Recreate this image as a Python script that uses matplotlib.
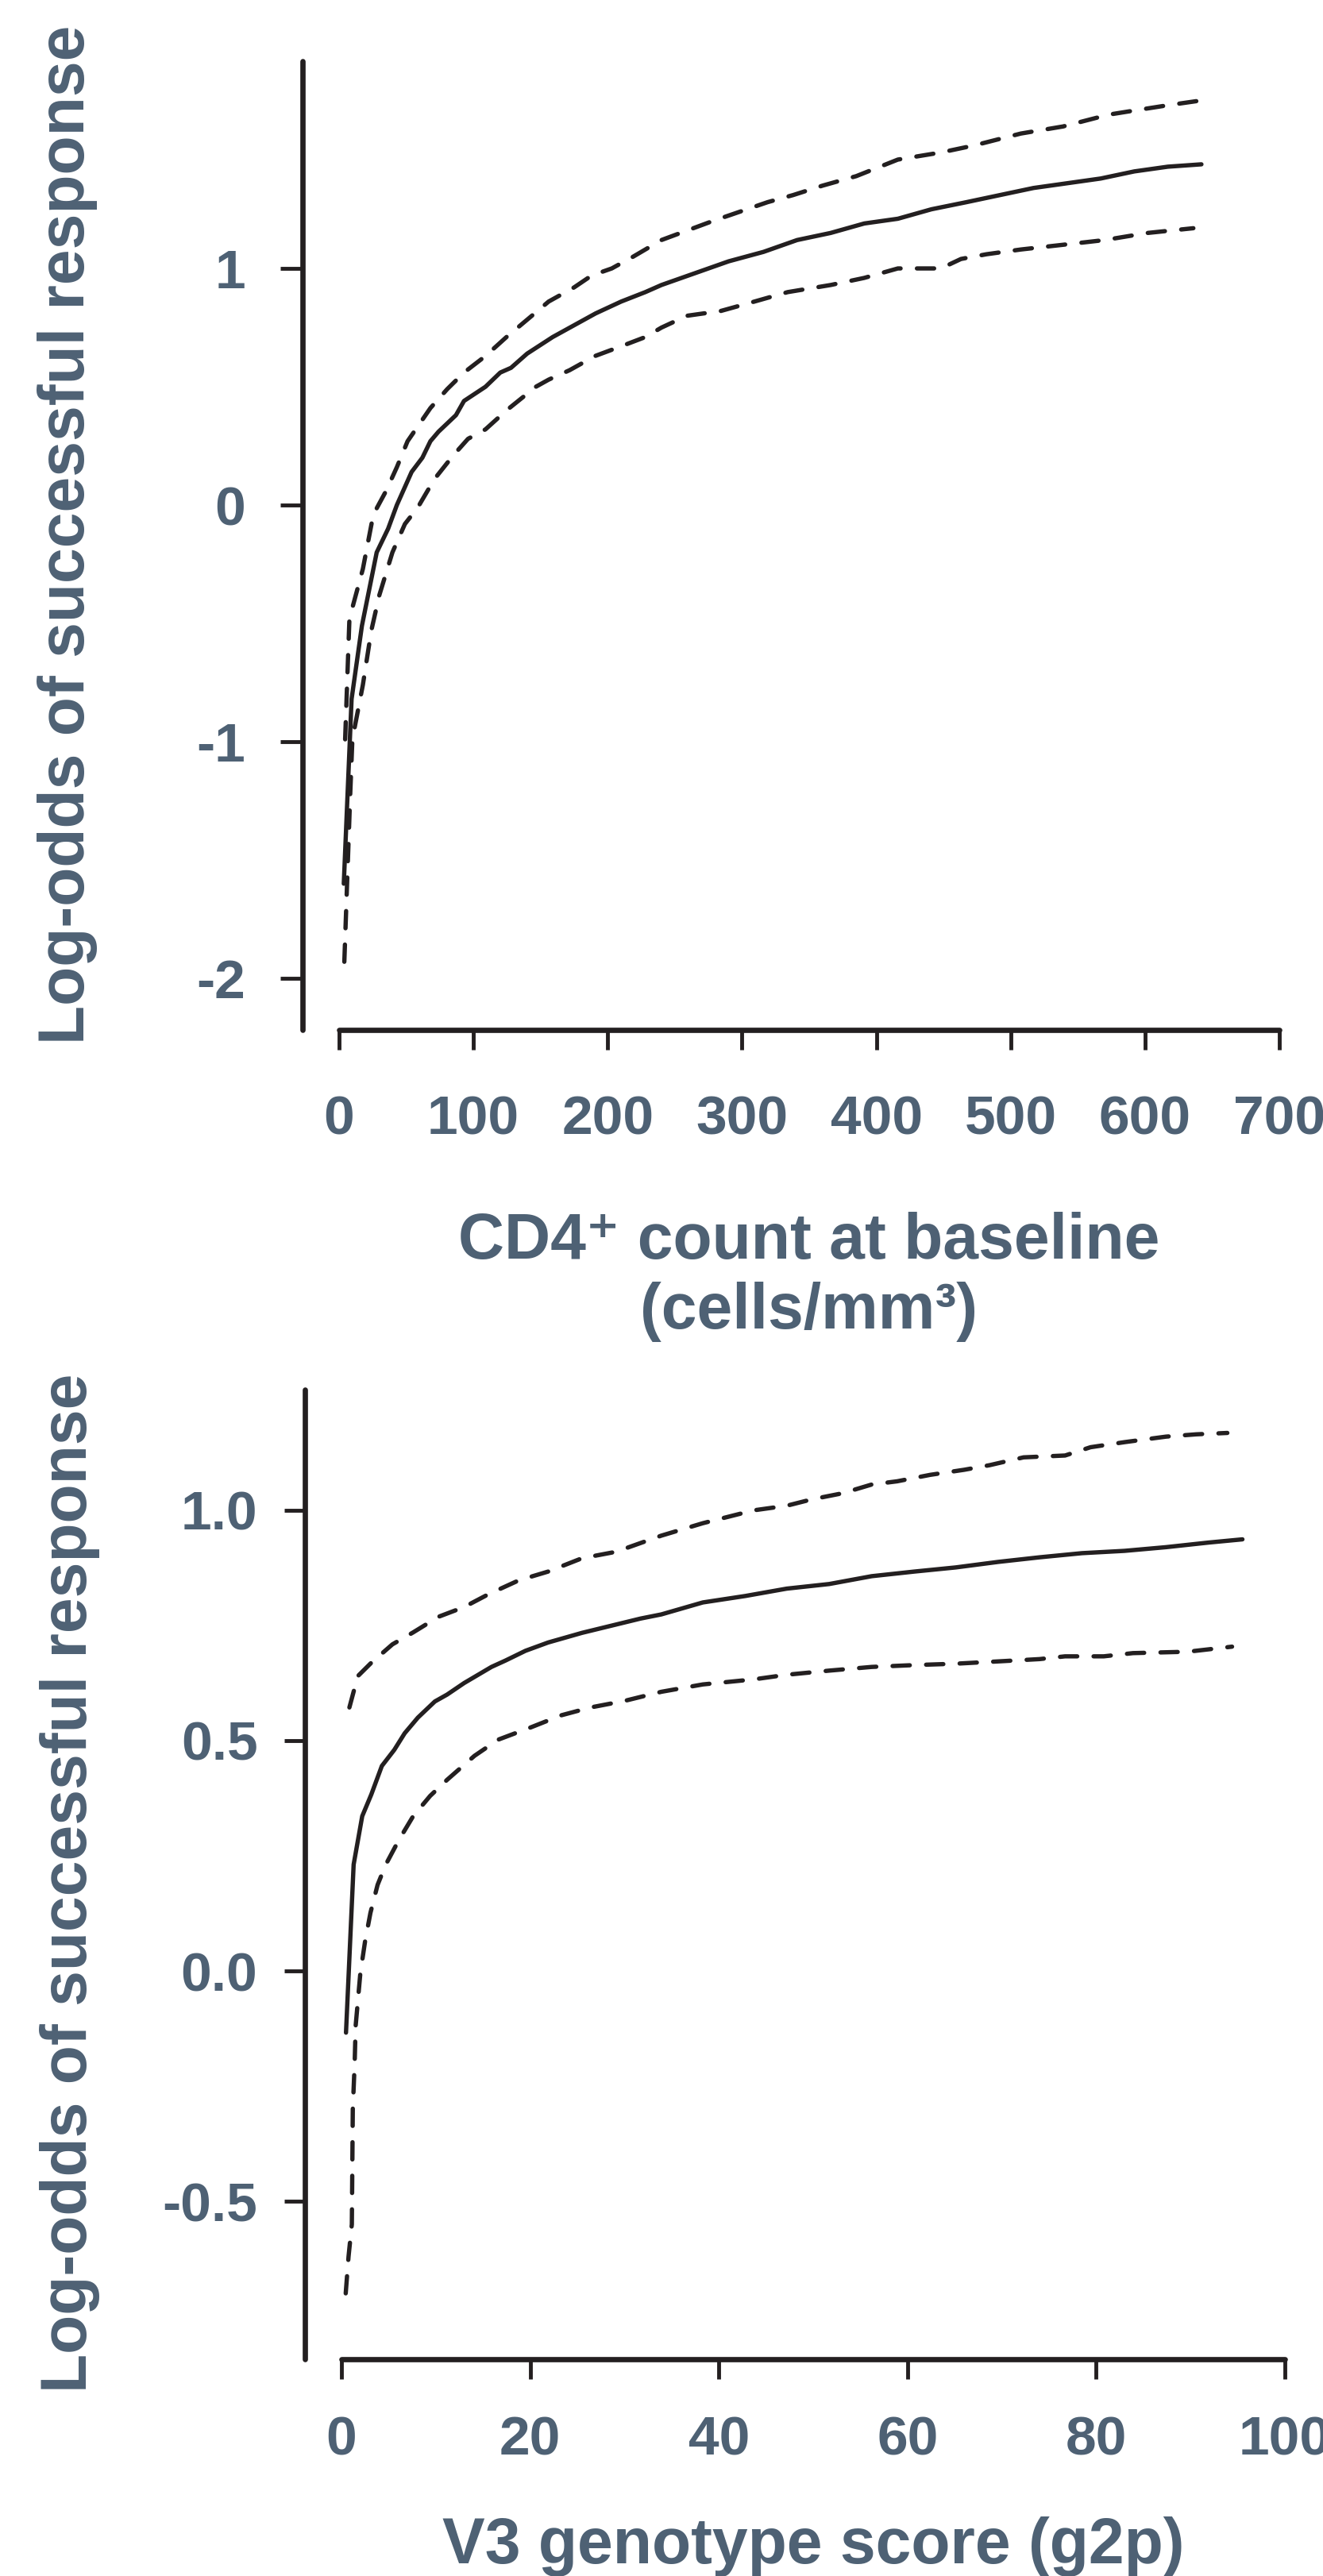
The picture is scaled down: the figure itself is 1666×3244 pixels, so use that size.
import matplotlib
matplotlib.use("Agg")
import matplotlib.pyplot as plt

# CD4+ count at baseline (top panel)
cd4_x = [3.5, 9.3, 17, 28, 36.5, 43, 54, 62, 68, 74, 87, 93, 109, 120, 128, 140, 159, 175, 191,
         210, 228, 240, 265, 290, 316, 341, 366, 391, 416, 441, 467, 492, 517, 542, 567, 592, 617, 642]
cd4_fit = [-1.60, -0.82, -0.51, -0.20, -0.10, 0.0, 0.14, 0.20, 0.27, 0.31, 0.38, 0.44, 0.50, 0.56,
           0.58, 0.64, 0.71, 0.76, 0.81, 0.86, 0.90, 0.93, 0.98, 1.03, 1.07, 1.12, 1.15, 1.19, 1.21,
           1.25, 1.28, 1.31, 1.34, 1.36, 1.38, 1.41, 1.43, 1.44]
cd4_upper_x = [4.5, 7.7, 17.7, 25.5, 35, 43, 51, 68, 80.5, 93, 109, 124.6, 143.5, 156, 175, 188, 203,
               219, 240, 278, 319, 338, 360, 385, 416, 448, 473, 507.5, 539, 573, 595, 617.5, 642]
cd4_upper = [-0.99, -0.48, -0.27, -0.04, 0.06, 0.16, 0.27, 0.41, 0.49, 0.56, 0.63, 0.71, 0.80, 0.86,
             0.92, 0.97, 1.00, 1.05, 1.12, 1.20, 1.28, 1.31, 1.35, 1.39, 1.46, 1.49, 1.52, 1.57, 1.60,
             1.65, 1.67, 1.69, 1.71]
cd4_lower_x = [3.9, 8.3, 9.9, 17.7, 24, 30, 39.7, 49, 58.6, 71, 85, 96, 109, 124.6, 146.5, 156, 171.6,
               190.6, 209.5, 228, 240, 259, 284, 303, 334, 366, 391, 416, 448, 463, 482, 507.5, 539,
               570, 602, 636]
cd4_lower = [-1.93, -1.22, -0.99, -0.76, -0.53, -0.38, -0.20, -0.08, -0.01, 0.11, 0.21, 0.28, 0.32,
             0.40, 0.50, 0.53, 0.57, 0.63, 0.67, 0.71, 0.75, 0.80, 0.82, 0.85, 0.90, 0.93, 0.96, 1.00,
             1.00, 1.04, 1.06, 1.08, 1.10, 1.12, 1.15, 1.17]
cd4_ticks = [0, 100, 200, 300, 400, 500, 600, 700]
cd4_yticks = [-2, -1, 0, 1]
cd4_ylabels = ["-2", "-1", "0", "1"]

# V3 genotype score (bottom panel)
g2p_x = [0.48, 1.29, 2.2, 3.16, 4.28, 5.6, 6.7, 8.1, 9.9, 11.2, 13.0, 15.9, 17.4, 19.5, 21.9, 25.5,
         29.1, 31.7, 33.9, 38.3, 42.8, 47.2, 51.7, 56.2, 60.7, 65.1, 69.6, 74.0, 78.5, 83.0, 87.4,
         91.9, 95.5]
g2p_fit = [-0.134, 0.231, 0.336, 0.383, 0.445, 0.48, 0.516, 0.55, 0.585, 0.60, 0.625, 0.66, 0.674,
           0.695, 0.713, 0.734, 0.752, 0.765, 0.774, 0.80, 0.814, 0.83, 0.84, 0.857, 0.867, 0.876,
           0.888, 0.898, 0.907, 0.912, 0.92, 0.93, 0.937]
g2p_upper_x = [0.84, 1.73, 3.16, 5.4, 7.6, 10.3, 13, 15.6, 18.8, 21.9, 25.5, 29.1, 33.9, 38.3, 43.7,
               47.2, 49.9, 53.1, 56.2, 58.9, 62.4, 66, 68.7, 72.3, 76.7, 79.4, 83, 87.4, 90.6, 93.9]
g2p_upper = [0.572, 0.64, 0.669, 0.709, 0.735, 0.769, 0.79, 0.818, 0.848, 0.867, 0.896, 0.91, 0.945,
             0.972, 1.00, 1.01, 1.024, 1.037, 1.056, 1.063, 1.077, 1.088, 1.098, 1.115, 1.119, 1.137,
             1.148, 1.16, 1.165, 1.168]
g2p_lower_x = [0.45, 0.75, 1.1, 1.2, 1.4, 1.5, 2.0, 2.5, 3.07, 3.83, 4.7, 6.05, 7.6, 9.4, 11.2, 14.1,
               16.6, 20.1, 23.3, 26.4, 29.95, 33.9, 38.3, 43.7, 47.2, 51.7, 56.2, 60.7, 65.1, 69.6,
               74, 76.7, 80.8, 83.9, 89.7, 94.4]
g2p_lower = [-0.70, -0.62, -0.55, -0.30, -0.20, -0.12, -0.005, 0.064, 0.126, 0.187, 0.231, 0.283,
             0.336, 0.38, 0.415, 0.467, 0.502, 0.529, 0.555, 0.572, 0.586, 0.606, 0.622, 0.633, 0.643,
             0.652, 0.66, 0.664, 0.667, 0.672, 0.677, 0.683, 0.683, 0.69, 0.693, 0.704]
g2p_ticks = [0, 20, 40, 60, 80, 100]
g2p_yticks = [-0.5, 0.0, 0.5, 1.0]
g2p_ylabels = ["-0.5", "0.0", "0.5", "1.0"]

TEXT = "#4e6174"
INK = "#231f20"
plt.rcParams["font.family"] = ["Liberation Sans", "DejaVu Sans"]
plt.rcParams["font.weight"] = "bold"

fig = plt.figure(figsize=(16.66, 32.44), dpi=100)
W, H = 1666, 3244

LINE = dict(color=INK, lw=3.9, solid_capstyle="round", dash_capstyle="round",
            solid_joinstyle="round")
DASH = (0, (4.0, 3.8))


def style_axes(ax, xpad, ypad, ylen):
    for side in ["top", "right"]:
        ax.spines[side].set_visible(False)
    for side in ["left", "bottom"]:
        ax.spines[side].set_linewidth(4.8)
        ax.spines[side].set_color(INK)
        ax.spines[side].set_capstyle("round")
    ax.spines["left"].set_position(("outward", 33))
    ax.tick_params(axis="x", length=18, width=3.5, color=INK, pad=xpad,
                   labelsize=50, labelcolor=TEXT)
    ax.tick_params(axis="y", length=ylen, width=3.5, color=INK, pad=ypad,
                   labelsize=50, labelcolor=TEXT)
    for lab in ax.get_xticklabels() + ax.get_yticklabels():
        lab.set_fontweight("bold")
    ax.set_facecolor("none")


# top panel
ax1 = fig.add_axes([427 / W, 1 - 1297 / H, 1184 / W, 1220 / H])
ax1.plot(cd4_x, cd4_fit, **LINE)
ax1.plot(cd4_upper_x, cd4_upper, ls=DASH, **LINE)
ax1.plot(cd4_lower_x, cd4_lower, ls=DASH, **LINE)
ax1.set_xlim(0, 700)
ax1.set_ylim(-2.218, 1.876)
ax1.set_xticks(cd4_ticks)
ax1.set_yticks(cd4_yticks)
ax1.set_yticklabels(cd4_ylabels)
style_axes(ax1, xpad=41, ypad=32, ylen=20)
ax1.set_xlabel("CD4\u207a count at baseline\n(cells/mm\u00b3)", fontsize=58,
               fontweight="bold", color=TEXT, va="baseline", linespacing=1.2)
ax1.xaxis.set_label_coords(0.5, -0.3082)
ax1.set_ylabel("Log-odds of successful response", fontsize=58, fontweight="bold",
               color=TEXT, va="baseline")
ax1.yaxis.set_label_coords(-0.2711, 0.511)

# bottom panel
ax2 = fig.add_axes([430 / W, 1 - 2971 / H, 1188 / W, 1221 / H])
ax2.plot(g2p_x, g2p_fit, **LINE)
ax2.plot(g2p_upper_x, g2p_upper, ls=DASH, **LINE)
ax2.plot(g2p_lower_x, g2p_lower, ls=DASH, **LINE)
ax2.set_xlim(0, 100)
ax2.set_ylim(-0.843, 1.262)
ax2.set_xticks(g2p_ticks)
ax2.set_yticks(g2p_yticks)
ax2.set_yticklabels(g2p_ylabels)
style_axes(ax2, xpad=33, ypad=24, ylen=19)
ax2.set_xlabel("V3 genotype score (g2p)", fontsize=58, fontweight="bold",
               color=TEXT, va="baseline")
ax2.xaxis.set_label_coords(0.5, -0.2105)
ax2.set_ylabel("Log-odds of successful response", fontsize=58, fontweight="bold",
               color=TEXT, va="baseline")
ax2.yaxis.set_label_coords(-0.2702, 0.491)

fig.savefig("out.png", dpi=100)
plt.close(fig)
